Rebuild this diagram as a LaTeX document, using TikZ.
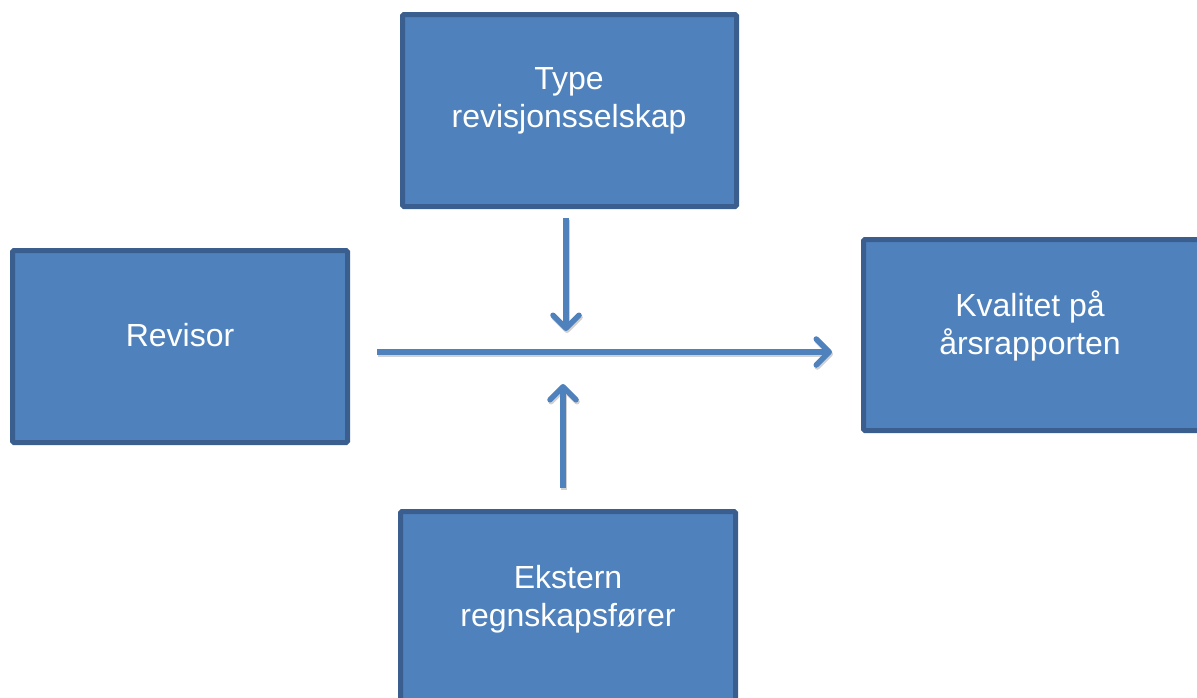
\documentclass[tikz,border=0pt]{standalone}
\usepackage{fontspec}
\setmainfont{Liberation Sans}
\usetikzlibrary{arrows.meta,shadows}
\definecolor{boxfill}{HTML}{4F81BD}
\definecolor{boxline}{HTML}{3A5F8E}
\definecolor{arrowcol}{HTML}{4F81BD}
\tikzset{
  box/.style={draw=boxline, fill=boxfill, line width=5pt, rounded corners=1.5pt,
    drop shadow={shadow xshift=1.5pt, shadow yshift=-2pt, opacity=0.25}},
  lbl/.style={text=white, font=\fontsize{32}{38}\selectfont, align=center, inner sep=0pt},
  conn/.style={draw=arrowcol, line width=5.5pt,
    -{Straight Barb[length=13pt,width=26pt,line width=5.5pt,line cap=round,line join=round]},
    preaction={draw=black!18, line width=5.5pt, transform canvas={xshift=1pt,yshift=-2pt}}}
}
\begin{document}
\begin{tikzpicture}[x=1pt,y=-1pt]
\useasboundingbox (0,0) rectangle (1197,697);
\clip (0,0) rectangle (1197,697);
% boxes
\path[box] (402.5,14.5) rectangle (736.5,206.5);
\path[box] (12.5,250.5) rectangle (347.5,442.5);
\path[box] (863.5,239.5) rectangle (1210,430.5);
\path[box] (400.5,511.5) rectangle (735.5,720);
% labels
\node[lbl] (type) at (569,101) {Type\\revisjonsselskap};
\node[lbl] (rev) at (180,335) {Revisor};
\node[lbl] (kval) at (1030,326) {Kvalitet på\\årsrapporten};
\node[lbl] (ekst) at (568,599.5) {Ekstern\\regnskapsfører};
% connector endpoints
\coordinate (hs) at (377,352);
\coordinate (he) at (832,352);
\coordinate (ds) at (566,218);
\coordinate (de) at (566,331);
\coordinate (us) at (563,488);
\coordinate (ue) at (563,384);
\draw[conn] (hs) -- (he);
\draw[conn] (ds) -- (de);
\draw[conn] (us) -- (ue);
\end{tikzpicture}
\end{document}
